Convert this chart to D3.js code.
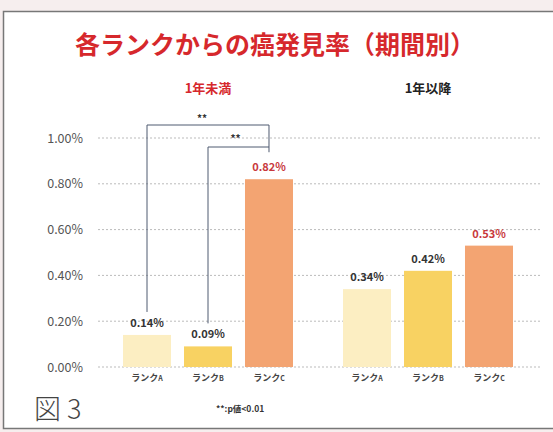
<!DOCTYPE html>
<html><head><meta charset="utf-8">
<script src="https://cdn.jsdelivr.net/npm/d3@7"></script>
<style>
html,body{margin:0;padding:0;background:#fff;}
svg{display:block;}
text{font-family:"Noto Sans CJK JP","Noto Sans",sans-serif;}
</style></head>
<body>
<svg id="chart" width="553" height="432"></svg>
<script>
const title = "各ランクからの癌発見率（期間別）";
const groups = ["1年未満", "1年以降"];
const ranks = ["A", "B", "C"];
const valuesUnder1 = [0.14, 0.09, 0.82];
const valuesOver1 = [0.34, 0.42, 0.53];
const yTicks = [0, 0.2, 0.4, 0.6, 0.8, 1.0];
const barColors = ["#FCEEC2", "#F8D262", "#F3A472"];
const figLabel = "図3";
const note = "**:p値<0.01";

const svg = d3.select("#chart");
svg.append("rect").attr("x",0).attr("y",0).attr("width",553).attr("height",432).attr("fill","#f6eeee");
svg.append("rect").attr("x",3.5).attr("y",11.5).attr("width",560).attr("height",417)
  .attr("fill","#fff").attr("stroke","#777").attr("stroke-width",1.5);

const y = d3.scaleLinear().domain([0, 1.0]).range([367, 138]);
const xg = d3.scaleBand().domain(groups).range([98, 538]);
const xr = d3.scaleBand().domain(ranks).range([0, xg.bandwidth()]).paddingInner(0.213).paddingOuter(0.41);

svg.append("text").attr("x", 275).attr("y", 54).attr("text-anchor","middle")
  .attr("font-size", 25).attr("font-weight", 700).attr("fill", "#D6282C").text(title);

svg.append("g").selectAll("line").data(yTicks).join("line")
  .attr("x1", 98).attr("x2", 540)
  .attr("y1", d => y(d)).attr("y2", d => y(d))
  .attr("stroke", "#bbb").attr("stroke-width", 1).attr("stroke-dasharray", "2,2");

const yAxis = d3.axisLeft(y).tickValues(yTicks).tickFormat(d => d.toFixed(2) + "%").tickSize(0).tickPadding(0);
const ga = svg.append("g").attr("transform", "translate(83,0)").call(yAxis);
ga.select(".domain").remove();
ga.selectAll("text").attr("font-size", 12.5).attr("fill", "#555")
  .attr("font-family", "'Open Sans','Noto Sans',sans-serif");

const data = [];
groups.forEach((g, gi) => {
  const vals = gi === 0 ? valuesUnder1 : valuesOver1;
  ranks.forEach((r, ri) => data.push({g, r, ri, v: vals[ri]}));
});
const bx = d => xg(d.g) + xr(d.r);
svg.append("g").selectAll("rect").data(data).join("rect")
  .attr("x", bx).attr("width", xr.bandwidth())
  .attr("y", d => y(d.v)).attr("height", d => y(0) - y(d.v))
  .attr("fill", d => barColors[d.ri]);

svg.append("g").selectAll("text").data(data).join("text")
  .attr("x", d => bx(d) + xr.bandwidth()/2).attr("y", d => y(d.v) - 8)
  .attr("text-anchor", "middle").attr("font-size", 11).attr("font-weight", 700)
  .attr("font-family", "'Open Sans','Noto Sans',sans-serif")
  .attr("fill", d => d.r === "C" ? "#C8383C" : "#333")
  .text(d => d.v.toFixed(2) + "%");

const cl = svg.append("g").selectAll("text").data(data).join("text")
  .attr("x", d => bx(d) + xr.bandwidth()/2).attr("y", 381)
  .attr("text-anchor", "middle").attr("font-size", 9).attr("font-weight", 700).attr("fill", "#444");
cl.append("tspan").text("ランク");
cl.append("tspan").attr("font-size", 7).text(d => d.r);

svg.append("g").selectAll("text").data(groups).join("text")
  .attr("x", d => xg(d) + xg.bandwidth()/2).attr("y", 93)
  .attr("text-anchor", "middle").attr("font-size", 13).attr("font-weight", 700)
  .attr("fill", (d, i) => i === 0 ? "#D6282C" : "#222").text(d => d);

const cx = r => xg(groups[0]) + xr(r) + xr.bandwidth()/2;
const vA = valuesUnder1[0], vB = valuesUnder1[1], vC = valuesUnder1[2];
const top1 = y(1.0) - 13, top2 = y(1.0) + 9;
const br = svg.append("g").attr("fill", "none").attr("stroke", "#4f5a70").attr("stroke-width", 1);
br.append("path").attr("d", `M${cx("A")},${y(vA)-23}V${top1}H${cx("C")}V${y(vC)-27}`);
br.append("path").attr("d", `M${cx("B")},${y(vB)-23}V${top2}H${cx("C")}`);
svg.append("text").attr("x", (cx("A")+cx("C"))/2 - 6).attr("y", top1 - 3).attr("text-anchor","middle")
  .attr("font-size", 10).attr("font-weight", 700).attr("fill", "#333").text("**");
svg.append("text").attr("x", (cx("B")+cx("C"))/2 - 3).attr("y", top2 - 5).attr("text-anchor","middle")
  .attr("font-size", 10).attr("font-weight", 700).attr("fill", "#333").text("**");

svg.append("text").attr("x", 34).attr("y", 419).attr("font-size", 27).attr("font-weight", 300)
  .attr("letter-spacing", 6).attr("fill", "#444").text(figLabel);
svg.append("text").attr("x", 216).attr("y", 412).attr("font-size", 8.5).attr("font-weight", 700)
  .attr("fill", "#333").text(note);
</script>
</body></html>
